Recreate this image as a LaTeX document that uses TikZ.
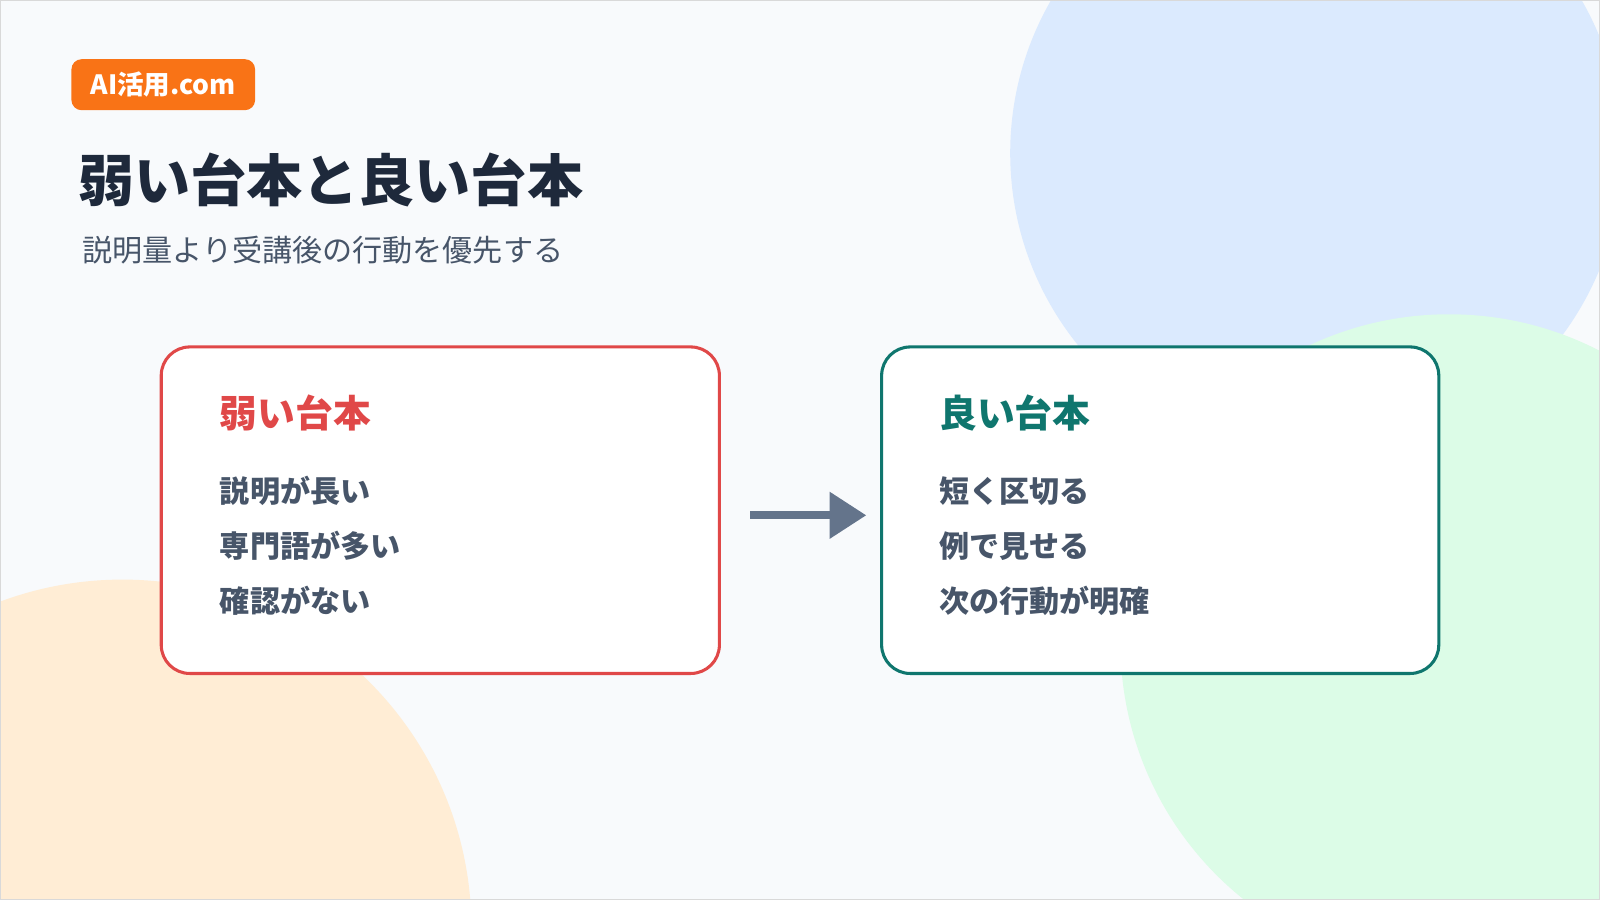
\documentclass[tikz,border=0pt]{standalone}
\usepackage{fontspec}
\setmainfont{Noto Sans CJK JP}
\definecolor{bg}{HTML}{F8FAFC}
\definecolor{cblue}{HTML}{DBEAFE}
\definecolor{cgreen}{HTML}{DCFCE7}
\definecolor{corange}{HTML}{FFEDD5}
\definecolor{badge}{HTML}{F97316}
\definecolor{dark}{HTML}{1E293B}
\definecolor{slate}{HTML}{475569}
\definecolor{redc}{HTML}{E04848}
\definecolor{teal}{HTML}{0F766E}
\definecolor{arr}{HTML}{64748B}
\usetikzlibrary{arrows.meta}
\begin{document}
\begin{tikzpicture}[x=1pt,y=-1pt,
  card/.style={draw,line width=3pt,fill=white,rounded corners=28pt},
  head/.style={anchor=west,font=\fontsize{37}{42}\selectfont\bfseries},
  item/.style={anchor=west,text=slate,font=\fontsize{29.5}{34}\selectfont\bfseries}]
\useasboundingbox (0,0) rectangle (1568,882);
\begin{scope}
\clip (0,0) rectangle (1568,882);
\fill[bg] (0,0) rectangle (1568,882);
\fill[cblue] (1290,150) circle (300);
\fill[cgreen] (1420,630) circle (322);
\fill[corange] (120,910) circle (342);
\end{scope}
\draw[gray!30,line width=1pt] (0.5,0.5) rectangle (1567.5,881.5);
\node[fill=badge,rounded corners=10pt,minimum width=180pt,minimum height=50pt,text=white,font=\fontsize{26}{30}\selectfont\bfseries] (badge) at (160,83) {AI活用.com};
\node[anchor=west,text=dark,font=\fontsize{55}{62}\selectfont\bfseries] (title) at (73,176) {弱い台本と良い台本};
\node[anchor=west,text=slate,font=\fontsize{29.5}{33}\selectfont] (sub) at (77,245) {説明量より受講後の行動を優先する};
\node[card,draw=redc,minimum width=547pt,minimum height=320pt] (left) at (431.5,500) {};
\node[card,draw=teal,minimum width=546pt,minimum height=320pt] (right) at (1137,500) {};
\node[head,text=redc] (lh) at (212,405) {弱い台本};
\node[item] (l1) at (212,481) {説明が長い};
\node[item] (l2) at (212,535) {専門語が多い};
\node[item] (l3) at (212,589) {確認がない};
\node[head,text=teal] (rh) at (917,405) {良い台本};
\node[item] (r1) at (917,481) {短く区切る};
\node[item] (r2) at (917,535) {例で見せる};
\node[item] (r3) at (917,589) {次の行動が明確};
\coordinate (a1) at (735,505);
\coordinate (a2) at (849,505);
\draw[arr,line width=8pt,-{Triangle[length=36pt,width=44pt]}] (a1) -- (a2);
\end{tikzpicture}
\end{document}
